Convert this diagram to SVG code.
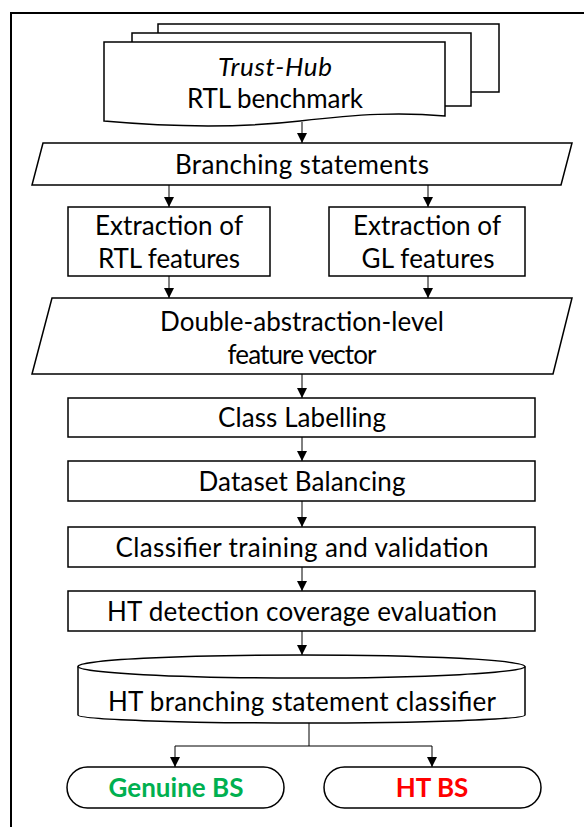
<svg xmlns="http://www.w3.org/2000/svg" width="584" height="827" viewBox="0 0 584 827">
<style>
.s{fill:#fff;stroke:#000;stroke-width:1.5}
.t{font-family:Lato,"Open Sans","Liberation Sans",sans-serif;font-size:26px;fill:#000;text-anchor:middle}
.c{fill:none;stroke:#000;stroke-width:1}
</style>
<defs>
<marker id="ah" viewBox="0 0 10 10" refX="10" refY="5" markerWidth="10" markerHeight="10" markerUnits="userSpaceOnUse" orient="auto">
<path d="M0,0 L10,5 L0,10 Z" fill="#000"/>
</marker>
</defs>
<rect x="11" y="13" width="640" height="880" fill="#fff" stroke="#000" stroke-width="2"/>
<g id="n_trusthub">
<rect class="s" x="158" y="24" width="341" height="68"/>
<rect class="s" x="132" y="33" width="339" height="73"/>
<path class="s" d="M104,42 H445 V116 C400,112 360,114 300,121 C230,129 160,126 104,121 Z"/>
<text class="t" x="275" y="76" font-style="italic" textLength="114">Trust-Hub</text>
<text class="t" x="275" y="108" textLength="176">RTL benchmark</text>
</g>
<g id="n_branch">
<polygon class="s" points="43,143 572,143 561,185 32,185"/>
<text class="t" x="302" y="174" textLength="254">Branching statements</text>
</g>
<g id="n_rtl">
<rect class="s" x="68" y="207" width="202" height="69"/>
<text class="t" x="169" y="235" textLength="148">Extraction of</text>
<text class="t" x="169" y="268" textLength="142">RTL features</text>
</g>
<g id="n_gl">
<rect class="s" x="329" y="207" width="196" height="69"/>
<text class="t" x="427" y="235" textLength="148">Extraction of</text>
<text class="t" x="428" y="268" textLength="133">GL features</text>
</g>
<g id="n_vector">
<polygon class="s" points="52,298 572,298 553,374 32,374"/>
<text class="t" x="302" y="331" textLength="284">Double-abstraction-level</text>
<text class="t" x="302" y="364" textLength="149">feature vector</text>
</g>
<g id="n_label">
<rect class="s" x="68" y="398" width="467" height="39"/>
<text class="t" x="302" y="427" textLength="168">Class Labelling</text>
</g>
<g id="n_balance">
<rect class="s" x="68" y="461" width="467" height="40"/>
<text class="t" x="302" y="491" textLength="207">Dataset Balancing</text>
</g>
<g id="n_train">
<rect class="s" x="68" y="527" width="467" height="40"/>
<text class="t" x="302" y="557" textLength="373">Classifier training and validation</text>
</g>
<g id="n_eval">
<rect class="s" x="68" y="591" width="467" height="40"/>
<text class="t" x="302" y="621" textLength="390">HT detection coverage evaluation</text>
</g>
<g id="n_classifier">
<path class="s" d="M78,666.5 V715 A223.5,8 0 0 0 525,715 V666.5"/>
<ellipse class="s" cx="301.5" cy="666.5" rx="223.5" ry="11.5"/>
<text class="t" x="302" y="711" textLength="388">HT branching statement classifier</text>
</g>
<g id="n_genuine">
<rect class="s" x="67" y="767" width="217" height="41" rx="20.5"/>
<text class="t" x="176" y="797" font-weight="bold" style="fill:#00B050" textLength="135">Genuine BS</text>
</g>
<g id="n_ht">
<rect class="s" x="324" y="767" width="217" height="41" rx="20.5"/>
<text class="t" x="432" y="797" font-weight="bold" style="fill:#FF0000">HT BS</text>
</g>
<g id="connectors">
<path class="c" d="M302,122 V143" marker-end="url(#ah)"/>
<path class="c" d="M169,185 V207" marker-end="url(#ah)"/>
<path class="c" d="M428,185 V207" marker-end="url(#ah)"/>
<path class="c" d="M169,276 V298" marker-end="url(#ah)"/>
<path class="c" d="M428,276 V298" marker-end="url(#ah)"/>
<path class="c" d="M302,374 V398" marker-end="url(#ah)"/>
<path class="c" d="M302,437 V461" marker-end="url(#ah)"/>
<path class="c" d="M302,501 V527" marker-end="url(#ah)"/>
<path class="c" d="M302,567 V591" marker-end="url(#ah)"/>
<path class="c" d="M302,631 V655" marker-end="url(#ah)"/>
<path class="c" d="M309,723 V746 H175 V767" marker-end="url(#ah)"/>
<path class="c" d="M309,746 H432 V767" marker-end="url(#ah)"/>
</g>
</svg>
